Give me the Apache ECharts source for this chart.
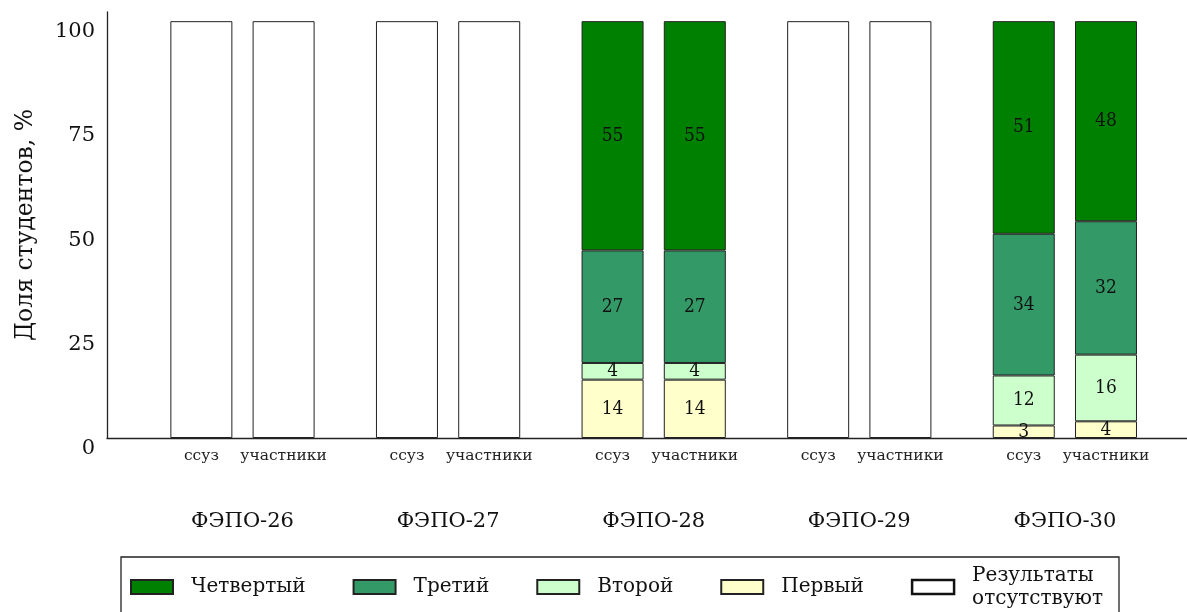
<!DOCTYPE html>
<html>
<head>
<meta charset="utf-8">
<script src="https://cdn.jsdelivr.net/npm/echarts@6/dist/echarts.min.js"></script>
<style>
  html, body { margin: 0; padding: 0; background: #fff; }
  #chart { width: 1187px; height: 612px; }
</style>
</head>
<body>
<div id="chart"></div>
<script>
// Exams and the two sample types shown under each of them
const groupNames = ['ФЭПО-26', 'ФЭПО-27', 'ФЭПО-28', 'ФЭПО-29', 'ФЭПО-30'];
const subNames = ['ссуз', 'участники'];

// Share of students per level, %, one value per bar (ссуз, участники for each exam)
const levelFirst  = [null, null, null, null, 14, 14, null, null, 3, 4];
const levelSecond = [null, null, null, null, 4, 4, null, null, 12, 16];
const levelThird  = [null, null, null, null, 27, 27, null, null, 34, 32];
const levelFourth = [null, null, null, null, 55, 55, null, null, 51, 48];
const noResults   = [100, 100, 100, 100, null, null, 100, 100, null, null];

const yTicks = [0, 25, 50, 75, 100];

const serif = "'DejaVu Serif', serif";
const condensed = "'DejaVu Serif Condensed', 'DejaVu Serif', serif";

// bar x positions: exam index, shifted left / right for the two samples
const barOffset = 0.2;
const barX = [];
const barLabel = [];
groupNames.forEach((g, gi) => {
  subNames.forEach((s, si) => {
    barX.push(gi + (si === 0 ? -barOffset : barOffset));
    barLabel.push(s);
  });
});
const groupX = groupNames.map((g, gi) => gi);

function nearestIndex(arr, v) {
  let best = 0;
  for (let i = 1; i < arr.length; i++) {
    if (Math.abs(arr[i] - v) < Math.abs(arr[best] - v)) best = i;
  }
  return best;
}

const xMin = -0.659, xMax = 4.594;

// Each item is [share, position]; the share comes first so the stack runs along y
function makeSeries(name, values, color, withLabel) {
  return {
    name: name,
    type: 'bar',
    stack: 'total',
    xAxisIndex: 0,
    barWidth: 62,
    encode: { x: 1, y: 0 },
    data: values.map((v, i) => [v == null ? '-' : v, barX[i]]),
    itemStyle: { color: color, borderColor: '#222', borderWidth: 1 },
    label: {
      show: withLabel,
      position: 'inside',
      color: '#111',
      fontFamily: condensed,
      fontSize: 19,
      formatter: p => p.value[0]
    },
    emphasis: { disabled: true },
    animation: false
  };
}

const chart = echarts.init(document.getElementById('chart'));
chart.setOption({
  backgroundColor: '#fff',
  animation: false,
  grid: { left: 107, right: 0, top: 12, bottom: 174, containLabel: false },
  xAxis: [
    {
      type: 'value',
      min: xMin, max: xMax,
      position: 'bottom',
      splitLine: { show: false },
      axisTick: { show: false },
      axisLine: { show: true, onZero: false, lineStyle: { color: '#222', width: 1.3 } },
      axisLabel: {
        customValues: barX,
        formatter: v => barLabel[nearestIndex(barX, v)],
        fontFamily: serif, fontSize: 15.5, color: '#222', margin: 10,
        showMinLabel: true, showMaxLabel: true
      }
    },
    {
      type: 'value',
      min: xMin, max: xMax,
      position: 'bottom',
      splitLine: { show: false },
      axisTick: { show: false },
      axisLine: { show: false, onZero: false },
      axisLabel: {
        customValues: groupX,
        formatter: v => groupNames[nearestIndex(groupX, v)],
        fontFamily: serif, fontSize: 21, color: '#111', margin: 73,
        showMinLabel: true, showMaxLabel: true
      }
    }
  ],
  yAxis: {
    type: 'value',
    min: 0, max: 102.2, interval: 25,
    name: 'Доля студентов, %',
    nameLocation: 'middle',
    nameGap: 69,
    nameTextStyle: { fontFamily: serif, fontSize: 23.5, color: '#111' },
    splitLine: { show: false },
    axisTick: { show: false },
    axisLine: { show: true, onZero: false, lineStyle: { color: '#222', width: 1.3 } },
    axisLabel: {
      fontFamily: serif, fontSize: 21, color: '#111', margin: 12,
      verticalAlign: 'top',
      formatter: v => (yTicks.indexOf(v) >= 0 ? String(v) : '')
    }
  },
  legend: {
    left: 121, top: 557,
    orient: 'horizontal',
    padding: [7, 16, 7, 9],
    borderColor: '#222', borderWidth: 1.3,
    itemWidth: 42, itemHeight: 14,
    itemGap: 47,
    selectedMode: false,
    textStyle: { fontFamily: serif, fontSize: 20, color: '#111', lineHeight: 23, padding: [0, 0, 0, 13] },
    data: [
      { name: 'Четвертый', icon: 'rect' },
      { name: 'Третий', icon: 'rect' },
      { name: 'Второй', icon: 'rect' },
      { name: 'Первый', icon: 'rect' },
      { name: 'Результаты\nотсутствуют', icon: 'rect',
        itemStyle: { color: '#fff', borderColor: '#111', borderWidth: 2.5 } }
    ]
  },
  series: [
    makeSeries('Первый', levelFirst, '#ffffcc', true),
    makeSeries('Второй', levelSecond, '#ccffcc', true),
    makeSeries('Третий', levelThird, '#339966', true),
    makeSeries('Четвертый', levelFourth, '#008000', true),
    makeSeries('Результаты\nотсутствуют', noResults, '#ffffff', false)
  ]
});
</script>
</body>
</html>
